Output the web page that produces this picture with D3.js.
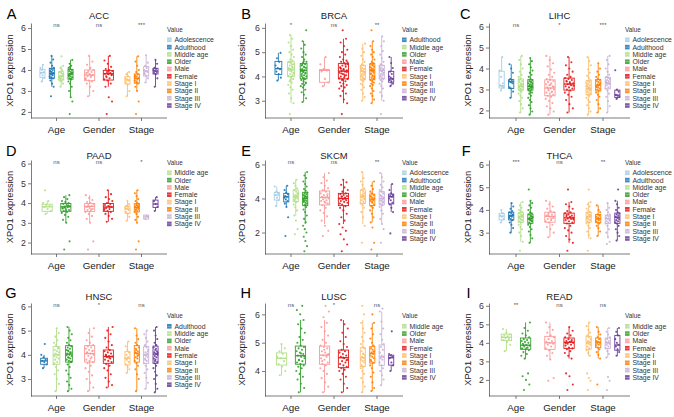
<!DOCTYPE html>
<html>
<head>
<meta charset="utf-8">
<script src="https://cdn.jsdelivr.net/npm/d3@7"></script>
<style>
  body { margin: 0; background: #fff; }
  svg { font-family: "Liberation Sans", Arial, sans-serif; }
</style>
</head>
<body>
<div id="chart"></div>
<script>
// Groups, colours (RColorBrewer "Paired") and the category each group belongs to
var groupNames = ["Adolescence", "Adulthood", "Middle age", "Older", "Male", "Female", "Stage I", "Stage II", "Stage III", "Stage IV"];
var groupColors = ["#A6CEE3", "#1F78B4", "#B2DF8A", "#33A02C", "#FB9A99", "#E31A1C", "#FDBF6F", "#FF7F00", "#CAB2D6", "#6A3D9A"];
var groupCategory = ["Age", "Age", "Age", "Age", "Gender", "Gender", "Stage", "Stage", "Stage", "Stage"];
var categories = ["Age", "Gender", "Stage"];

var panelLetters = ["A", "B", "C", "D", "E", "F", "G", "H", "I"];
var panelTitles = ["ACC", "BRCA", "LIHC", "PAAD", "SKCM", "THCA", "HNSC", "LUSC", "READ"];
var panelSig = [
  ["ns", "ns", "***"], ["*", "ns", "**"], ["ns", "*", "***"],
  ["ns", "ns", "*"], ["ns", "ns", "**"], ["***", "ns", "**"],
  ["ns", "*", "ns"], ["ns", "*", "ns"], ["**", "ns", "ns"]
];
var panelYDomain = [
  [1.71, 6.24], [2.29, 6.2], [1.64, 6.17],
  [1.42, 6.18], [0.74, 6.26], [2.06, 6.2],
  [2.3, 6.14], [3.12, 6.4], [1.13, 6.15]
];
var panelYTicks = [
  [2, 3, 4, 5, 6], [3, 4, 5, 6], [2, 3, 4, 5, 6],
  [2, 3, 4, 5, 6], [2, 4, 6], [3, 4, 5, 6],
  [3, 4, 5, 6], [4, 5, 6], [2, 3, 4, 5, 6]
];

// each group: [name, [whisker low, q1, median, q3, whisker high], points]
var acc = [
  ["Adolescence", [3.44, 3.65, 3.87, 4.03, 4.24], "3.45 3.62 3.75 3.85 3.9 4.0 4.1 4.25"],
  ["Adulthood", [3.2, 3.6, 3.84, 4.08, 4.67], "2.75 3.2 3.35 3.5 3.6 3.65 3.7 3.75 3.8 3.85 3.9 3.95 4.0 4.05 4.1 4.2 4.35 4.5 4.67 3.62 3.78 3.92"],
  ["Middle age", [3.2, 3.52, 3.68, 3.92, 4.2], "3.2 3.35 3.45 3.5 3.55 3.6 3.65 3.7 3.72 3.8 3.85 3.9 4.0 4.1 4.2 4.65 3.58 3.75"],
  ["Older", [2.7, 3.56, 3.8, 4.03, 4.48], "1.9 2.5 2.7 3.0 3.2 3.35 3.45 3.55 3.6 3.65 3.7 3.75 3.8 3.82 3.88 3.9 3.95 4.0 4.05 4.1 4.2 4.3 4.48 3.58 3.72 3.85 4.15"],
  ["Male", [2.75, 3.49, 3.76, 4.0, 4.67], "2.75 3.0 3.2 3.35 3.45 3.5 3.6 3.65 3.7 3.75 3.8 3.85 3.9 3.95 4.0 4.1 4.25 4.4 4.67 3.55 3.72 3.88"],
  ["Female", [3.2, 3.52, 3.82, 3.98, 4.67], "1.9 2.5 2.7 3.2 3.35 3.5 3.55 3.6 3.7 3.75 3.8 3.82 3.85 3.9 3.95 4.0 4.05 4.15 4.3 4.45 4.67 3.65 3.78 3.92"],
  ["Stage I", [2.75, 3.33, 3.52, 3.68, 3.9], "2.75 3.0 3.3 3.4 3.5 3.55 3.6 3.7 3.8 3.9"],
  ["Stage II", [3.0, 3.37, 3.6, 3.81, 4.65], "1.9 2.5 3.0 3.2 3.35 3.4 3.5 3.55 3.6 3.62 3.7 3.75 3.8 3.9 4.0 4.2 4.4 4.65 3.45 3.68"],
  ["Stage III", [3.4, 3.71, 3.95, 4.16, 4.7], "3.4 3.6 3.72 3.8 3.9 3.95 4.0 4.1 4.2 4.35 4.7 3.85"],
  ["Stage IV", [3.2, 3.81, 3.95, 4.08, 4.48], "3.2 3.6 3.8 3.85 3.9 3.95 4.0 4.05 4.1 4.3 4.48"]
];
var brca = [
  ["Adulthood", [3.83, 4.08, 4.32, 4.62, 4.97], "3.83 3.95 4.1 4.2 4.3 4.35 4.45 4.6 4.75 4.97"],
  ["Middle age", [2.9, 4.0, 4.29, 4.6, 5.7], "2.45 2.9 3.1 3.3 3.45 3.55 3.65 3.75 3.8 3.9 3.95 4.0 4.05 4.1 4.15 4.2 4.25 4.28 4.3 4.35 4.4 4.45 4.5 4.55 4.6 4.65 4.7 4.8 4.9 5.0 5.1 5.25 5.4 5.55 5.7 4.12 4.22 4.32 4.38 3.85 4.02 4.48 4.58"],
  ["Older", [2.95, 3.9, 4.25, 4.53, 5.45], "2.95 3.1 3.25 3.35 3.45 3.55 3.6 3.65 3.7 3.75 3.8 3.85 3.9 3.95 4.0 4.05 4.1 4.15 4.2 4.22 4.25 4.3 4.35 4.4 4.45 4.5 4.55 4.6 4.7 4.8 4.9 5.0 5.15 5.3 5.45 5.9 3.92 4.02 4.12 4.18 4.28 4.38 4.48 3.72 4.62"],
  ["Male", [3.6, 3.76, 4.25, 4.28, 4.8], "3.6 3.75 3.9 4.2 4.25 4.3 4.5 4.8"],
  ["Female", [2.9, 3.9, 4.22, 4.53, 5.55], "2.45 2.9 3.05 3.2 3.3 3.4 3.5 3.55 3.6 3.65 3.7 3.75 3.8 3.85 3.9 3.95 4.0 4.05 4.1 4.15 4.2 4.22 4.25 4.3 4.35 4.4 4.45 4.5 4.55 4.6 4.65 4.7 4.8 4.9 5.0 5.1 5.25 5.4 5.55 5.9 3.92 4.02 4.12 4.18 4.28 4.38 4.48 3.88 4.58 4.08 4.32"],
  ["Stage I", [3.0, 3.86, 4.2, 4.46, 5.35], "3.0 3.15 3.3 3.45 3.55 3.65 3.7 3.8 3.85 3.9 3.95 4.0 4.05 4.1 4.15 4.2 4.25 4.3 4.35 4.4 4.45 4.5 4.6 4.7 4.85 5.0 5.15 5.35 3.92 4.02 4.12 4.22 4.32"],
  ["Stage II", [2.9, 3.86, 4.25, 4.53, 5.45], "2.9 3.05 3.2 3.3 3.4 3.5 3.6 3.65 3.7 3.75 3.8 3.85 3.9 3.95 4.0 4.05 4.1 4.15 4.2 4.25 4.3 4.35 4.4 4.45 4.5 4.55 4.6 4.7 4.8 4.9 5.0 5.1 5.25 5.45 5.9 3.92 4.02 4.12 4.22 4.28 4.38 4.48"],
  ["Stage III", [3.0, 3.9, 4.25, 4.46, 5.65], "2.45 3.0 3.2 3.35 3.5 3.6 3.7 3.8 3.85 3.9 3.95 4.0 4.05 4.1 4.15 4.2 4.25 4.3 4.35 4.4 4.45 4.5 4.6 4.75 4.9 5.05 5.25 5.45 5.65 4.02 4.12 4.22 4.32"],
  ["Stage IV", [3.6, 3.76, 3.9, 4.21, 4.8], "3.6 3.7 3.8 3.85 3.9 3.95 4.0 4.1 4.2 4.35 4.55 4.8"]
];
var lihc = [
  ["Adolescence", [2.95, 3.07, 3.18, 3.87, 4.55], "2.95 3.1 3.15 3.2 3.3 3.6 3.9 4.55"],
  ["Adulthood", [2.6, 3.05, 3.37, 3.47, 4.2], "2.6 2.9 3.05 3.1 3.3 3.35 3.4 3.45 3.5 3.8 4.0 4.2"],
  ["Middle age", [1.9, 2.97, 3.15, 3.5, 4.6], "1.9 2.1 2.3 2.45 2.6 2.7 2.8 2.9 2.95 3.0 3.05 3.1 3.15 3.2 3.25 3.3 3.35 3.4 3.5 3.6 3.7 3.85 4.0 4.2 4.4 4.6 3.02 3.12 3.22 3.45"],
  ["Older", [1.8, 2.97, 3.15, 3.47, 4.5], "1.8 1.95 2.1 2.25 2.4 2.5 2.6 2.7 2.8 2.85 2.9 2.95 3.0 3.05 3.1 3.12 3.15 3.2 3.25 3.3 3.35 3.4 3.45 3.5 3.6 3.7 3.8 3.9 4.05 4.2 4.35 4.5 3.02 3.08 3.18 3.28 3.38"],
  ["Male", [1.8, 2.7, 3.07, 3.46, 4.6], "1.8 1.95 2.1 2.2 2.35 2.45 2.55 2.65 2.7 2.75 2.8 2.85 2.9 2.95 3.0 3.05 3.1 3.15 3.2 3.25 3.3 3.35 3.4 3.45 3.5 3.6 3.7 3.8 3.95 4.1 4.25 4.4 4.6 2.88 3.02 3.12 3.22"],
  ["Female", [1.9, 2.97, 3.26, 3.54, 4.55], "1.9 2.1 2.3 2.5 2.65 2.75 2.85 2.95 3.0 3.05 3.1 3.15 3.2 3.25 3.3 3.35 3.4 3.45 3.5 3.55 3.6 3.7 3.85 4.0 4.15 4.3 4.55 3.18 3.28 3.38"],
  ["Stage I", [1.8, 2.75, 3.05, 3.42, 4.55], "1.8 1.95 2.1 2.25 2.4 2.5 2.6 2.7 2.75 2.8 2.85 2.9 2.95 3.0 3.05 3.1 3.15 3.2 3.25 3.3 3.35 3.4 3.45 3.55 3.65 3.8 3.95 4.15 4.35 4.55 2.98 3.08 3.18"],
  ["Stage II", [1.9, 2.93, 3.2, 3.48, 4.25], "1.9 2.1 2.3 2.5 2.65 2.75 2.85 2.95 3.0 3.05 3.1 3.15 3.2 3.25 3.3 3.35 3.4 3.45 3.5 3.6 3.7 3.85 4.0 4.25 3.12 3.22"],
  ["Stage III", [1.9, 3.03, 3.31, 3.58, 4.6], "1.9 2.2 2.45 2.65 2.8 2.95 3.05 3.1 3.2 3.25 3.3 3.35 3.4 3.45 3.5 3.55 3.6 3.7 3.85 4.0 4.2 4.4 4.6 3.28 3.38"],
  ["Stage IV", [2.55, 2.62, 2.73, 2.97, 3.0], "2.55 2.65 2.7 2.75 2.9 3.0 3.92"]
];
var paad = [
  ["Middle age", [3.45, 3.58, 3.81, 3.94, 4.1], "3.45 3.6 3.7 3.8 3.85 3.9 4.0 4.1 4.65"],
  ["Older", [3.0, 3.58, 3.81, 3.98, 4.4], "1.65 2.06 3.0 3.15 3.3 3.4 3.5 3.55 3.6 3.65 3.7 3.75 3.8 3.82 3.85 3.9 3.95 4.0 4.05 4.1 4.2 4.3 4.4 3.62 3.72 3.88 3.78"],
  ["Male", [3.0, 3.58, 3.83, 3.98, 4.4], "1.65 2.06 3.0 3.2 3.35 3.45 3.55 3.6 3.65 3.7 3.75 3.8 3.85 3.9 3.95 4.0 4.05 4.15 4.25 4.4 3.68 3.82"],
  ["Female", [3.05, 3.58, 3.8, 3.98, 4.65], "3.05 3.2 3.35 3.45 3.55 3.6 3.65 3.7 3.75 3.8 3.85 3.9 3.95 4.0 4.1 4.2 4.3 4.45 4.65 3.72 3.82"],
  ["Stage I", [3.1, 3.48, 3.7, 3.85, 4.1], "3.1 3.3 3.45 3.55 3.65 3.7 3.75 3.8 3.85 3.95 4.1"],
  ["Stage II", [3.0, 3.55, 3.78, 3.97, 4.65], "1.65 2.06 3.0 3.15 3.3 3.45 3.55 3.6 3.65 3.7 3.75 3.8 3.85 3.9 3.95 4.0 4.1 4.2 4.35 4.5 4.65 3.68 3.82 3.88"],
  ["Stage III", [3.15, 3.19, 3.3, 3.39, 3.4], "3.2 3.3 3.35"],
  ["Stage IV", [3.6, 3.78, 3.95, 4.15, 4.3], "3.6 3.8 3.95 4.1 4.3"]
];
var skcm = [
  ["Adolescence", [3.55, 3.91, 4.2, 4.36, 4.7], "3.55 3.9 4.05 4.2 4.3 4.4 4.7"],
  ["Adulthood", [3.5, 3.8, 4.1, 4.3, 4.75], "1.8 2.9 3.5 3.7 3.85 3.95 4.05 4.1 4.15 4.25 4.35 4.5 4.75"],
  ["Middle age", [3.0, 3.81, 4.1, 4.5, 5.1], "1.9 2.2 2.7 3.0 3.3 3.5 3.65 3.8 3.9 4.0 4.05 4.1 4.15 4.2 4.3 4.4 4.5 4.6 4.75 4.9 5.1 3.95 4.25"],
  ["Older", [2.5, 3.58, 4.0, 4.36, 5.55], "0.9 1.2 1.5 1.75 2.0 2.2 2.4 2.6 2.8 3.0 3.2 3.35 3.5 3.6 3.7 3.75 3.8 3.85 3.9 3.95 4.0 4.05 4.1 4.15 4.2 4.25 4.3 4.35 4.45 4.55 4.7 4.85 5.0 5.2 5.35 5.55 3.65 3.88 4.02 4.12"],
  ["Male", [2.5, 3.62, 4.06, 4.44, 5.5], "1.8 2.1 2.4 2.7 2.95 3.15 3.3 3.45 3.6 3.7 3.8 3.85 3.9 3.95 4.0 4.05 4.1 4.15 4.2 4.3 4.4 4.5 4.6 4.75 4.9 5.05 5.25 5.5 3.75 4.08 4.25"],
  ["Female", [2.5, 3.58, 4.0, 4.3, 5.1], "0.9 1.3 1.6 1.9 2.1 2.3 2.5 2.7 2.9 3.1 3.3 3.45 3.55 3.65 3.75 3.8 3.85 3.9 3.95 4.0 4.05 4.1 4.15 4.2 4.25 4.3 4.4 4.5 4.65 4.8 4.95 5.1 3.7 3.98 4.12"],
  ["Stage I", [2.5, 3.7, 4.12, 4.5, 5.55], "1.4 2.4 2.9 3.2 3.45 3.6 3.7 3.8 3.9 4.0 4.05 4.1 4.15 4.2 4.3 4.4 4.5 4.6 4.8 5.0 5.2 5.55 3.95 4.25"],
  ["Stage II", [2.6, 3.58, 3.96, 4.26, 5.0], "1.0 1.4 2.3 2.6 2.9 3.1 3.3 3.45 3.55 3.65 3.75 3.85 3.9 3.95 4.0 4.05 4.1 4.2 4.3 4.4 4.55 4.75 5.0 3.8 4.15"],
  ["Stage III", [2.5, 3.62, 4.0, 4.4, 5.5], "1.4 2.2 2.5 2.8 3.1 3.3 3.5 3.6 3.7 3.8 3.85 3.9 3.95 4.0 4.05 4.1 4.2 4.3 4.4 4.5 4.65 4.8 5.0 5.25 5.5 3.75 4.15"],
  ["Stage IV", [3.2, 3.68, 4.1, 4.26, 4.85], "1.95 3.2 3.45 3.65 3.75 3.9 4.0 4.1 4.15 4.2 4.3 4.5 4.85"]
];
var thca = [
  ["Adolescence", [3.45, 3.56, 3.73, 3.85, 4.0], "3.45 3.6 3.7 3.75 3.85 4.0"],
  ["Adulthood", [3.0, 3.56, 3.75, 3.9, 4.3], "3.0 3.2 3.35 3.45 3.55 3.6 3.65 3.7 3.75 3.8 3.85 3.9 3.95 4.05 4.15 4.3 3.72 3.78"],
  ["Middle age", [2.6, 3.46, 3.7, 3.88, 4.35], "2.2 2.6 2.85 3.0 3.15 3.25 3.35 3.45 3.5 3.55 3.6 3.65 3.7 3.72 3.75 3.8 3.85 3.9 3.95 4.0 4.1 4.2 4.35 3.58 3.68 3.78"],
  ["Older", [2.55, 3.41, 3.62, 3.82, 4.4], "2.55 2.75 2.9 3.05 3.15 3.25 3.35 3.4 3.45 3.5 3.55 3.6 3.62 3.65 3.7 3.75 3.8 3.85 3.9 4.0 4.1 4.2 4.3 4.4 4.9 3.52 3.58 3.68 3.72"],
  ["Male", [2.8, 3.46, 3.72, 3.9, 4.4], "2.8 3.0 3.15 3.25 3.35 3.45 3.5 3.55 3.6 3.65 3.7 3.75 3.8 3.85 3.9 3.95 4.05 4.15 4.25 4.4 3.62 3.78"],
  ["Female", [2.55, 3.41, 3.65, 3.86, 4.35], "2.2 2.55 2.7 2.85 3.0 3.1 3.2 3.3 3.4 3.45 3.5 3.55 3.6 3.62 3.65 3.7 3.72 3.75 3.8 3.85 3.9 3.95 4.05 4.15 4.25 4.35 4.9 3.58 3.68 3.78"],
  ["Stage I", [2.75, 3.46, 3.7, 3.9, 4.35], "2.2 2.75 2.9 3.05 3.2 3.3 3.4 3.45 3.5 3.55 3.6 3.65 3.7 3.72 3.75 3.8 3.85 3.9 3.95 4.05 4.15 4.25 4.35 4.9 3.62 3.78"],
  ["Stage II", [2.85, 3.44, 3.62, 3.8, 4.2], "2.85 3.05 3.2 3.3 3.4 3.45 3.5 3.55 3.6 3.62 3.65 3.7 3.75 3.8 3.9 4.0 4.2"],
  ["Stage III", [2.8, 3.41, 3.62, 3.77, 4.3], "2.5 2.6 2.8 3.0 3.15 3.3 3.4 3.45 3.5 3.55 3.6 3.65 3.7 3.75 3.8 3.9 4.0 4.1 4.3"],
  ["Stage IV", [2.65, 3.41, 3.68, 3.86, 4.4], "2.65 2.85 3.0 3.15 3.3 3.4 3.45 3.5 3.55 3.6 3.65 3.7 3.75 3.8 3.85 3.9 4.0 4.1 4.25 4.4 4.9"]
];
var hnsc = [
  ["Adulthood", [3.45, 3.61, 3.75, 3.86, 4.0], "3.45 3.6 3.7 3.75 3.8 3.9 4.0 4.45"],
  ["Middle age", [2.5, 3.61, 4.0, 4.34, 5.1], "2.5 2.8 3.0 3.2 3.35 3.5 3.6 3.7 3.8 3.85 3.9 3.95 4.0 4.05 4.1 4.15 4.2 4.3 4.4 4.5 4.6 4.75 4.9 5.1 3.65 4.25"],
  ["Older", [2.5, 3.7, 4.03, 4.38, 5.15], "2.5 2.6 2.75 2.9 3.05 3.2 3.35 3.5 3.6 3.7 3.75 3.8 3.85 3.9 3.95 4.0 4.05 4.1 4.15 4.2 4.25 4.3 4.35 4.4 4.5 4.6 4.7 4.85 5.0 5.15 3.72 3.88 3.98 4.08 4.18"],
  ["Male", [2.5, 3.7, 4.05, 4.38, 5.1], "2.5 2.65 2.85 3.0 3.15 3.3 3.45 3.55 3.65 3.7 3.75 3.8 3.9 3.95 4.0 4.05 4.1 4.15 4.2 4.25 4.3 4.35 4.4 4.5 4.6 4.75 4.9 5.1 3.85 4.08 4.18"],
  ["Female", [2.65, 3.65, 3.93, 4.2, 5.15], "2.65 2.75 2.9 3.05 3.2 3.35 3.45 3.55 3.62 3.7 3.75 3.8 3.85 3.9 3.93 3.95 4.0 4.05 4.1 4.15 4.2 4.3 4.4 4.55 4.7 4.85 5.0 5.15 3.88 3.98"],
  ["Stage I", [3.25, 3.58, 3.86, 4.13, 4.55], "3.25 3.4 3.5 3.6 3.7 3.8 3.85 3.9 4.0 4.1 4.2 4.35 4.55"],
  ["Stage II", [2.5, 3.7, 4.07, 4.38, 5.1], "2.5 3.0 3.2 3.4 3.55 3.65 3.75 3.85 3.9 4.0 4.05 4.1 4.15 4.2 4.3 4.4 4.5 4.65 4.8 5.1 3.95 4.25"],
  ["Stage III", [2.6, 3.65, 4.0, 4.34, 5.0], "2.6 2.85 3.05 3.25 3.4 3.55 3.65 3.75 3.8 3.9 3.95 4.0 4.05 4.1 4.2 4.3 4.4 4.55 4.7 4.85 5.0 3.85 4.15"],
  ["Stage IV", [2.45, 3.65, 4.03, 4.36, 5.15], "2.45 2.6 2.8 3.0 3.15 3.3 3.45 3.55 3.65 3.7 3.8 3.85 3.9 3.95 4.0 4.05 4.1 4.15 4.2 4.3 4.4 4.5 4.65 4.8 5.0 5.15 3.75 4.08 4.25"]
];
var lusc = [
  ["Middle age", [3.85, 4.21, 4.45, 4.64, 4.95], "3.85 4.0 4.15 4.25 4.35 4.45 4.5 4.6 4.7 4.8 4.95"],
  ["Older", [3.25, 4.24, 4.54, 4.88, 5.8], "3.25 3.4 3.55 3.7 3.8 3.9 4.0 4.1 4.15 4.2 4.25 4.3 4.35 4.4 4.45 4.5 4.55 4.6 4.65 4.7 4.75 4.8 4.85 4.9 5.0 5.1 5.2 5.35 5.5 5.65 5.8 6.0 6.15 6.3 4.38 4.52 4.62"],
  ["Male", [3.25, 4.24, 4.56, 4.88, 5.8], "3.25 3.45 3.6 3.75 3.9 4.0 4.1 4.2 4.25 4.3 4.4 4.45 4.5 4.55 4.6 4.65 4.7 4.8 4.85 4.9 5.0 5.1 5.25 5.4 5.55 5.7 5.9 6.1 6.3 4.35 4.58 4.75"],
  ["Female", [3.25, 4.12, 4.47, 4.74, 5.8], "3.25 3.4 3.55 3.7 3.8 3.9 4.0 4.05 4.1 4.15 4.2 4.25 4.3 4.35 4.4 4.45 4.5 4.55 4.6 4.65 4.7 4.75 4.85 4.95 5.05 5.2 5.35 5.5 5.65 5.8 4.38 4.48"],
  ["Stage I", [3.25, 4.16, 4.47, 4.82, 5.8], "3.25 3.45 3.6 3.75 3.9 4.0 4.1 4.15 4.2 4.3 4.35 4.4 4.45 4.5 4.55 4.6 4.7 4.8 4.85 4.95 5.05 5.2 5.35 5.5 5.7 6.0 6.3 4.38 4.62"],
  ["Stage II", [3.3, 4.28, 4.62, 4.86, 5.7], "3.3 3.4 3.6 3.8 3.95 4.1 4.2 4.3 4.35 4.45 4.5 4.55 4.6 4.65 4.7 4.75 4.8 4.9 5.0 5.15 5.3 5.5 5.7 6.0 4.4 4.68"],
  ["Stage III", [3.5, 4.2, 4.5, 4.92, 6.1], "3.5 3.7 3.85 4.0 4.1 4.2 4.3 4.4 4.45 4.5 4.55 4.65 4.75 4.85 4.95 5.1 5.3 5.5 5.75 6.1 6.2"],
  ["Stage IV", [4.0, 4.21, 4.47, 4.56, 4.6], "4.0 4.2 4.3 4.45 4.5 4.55 4.6 5.4"]
];
var read = [
  ["Middle age", [3.55, 4.12, 4.3, 4.47, 4.75], "3.55 3.9 4.05 4.15 4.2 4.25 4.3 4.35 4.4 4.45 4.55 4.75"],
  ["Older", [3.15, 3.65, 3.87, 4.26, 5.1], "1.45 1.75 2.0 2.2 2.35 3.15 3.3 3.4 3.5 3.6 3.65 3.7 3.75 3.8 3.85 3.9 3.95 4.0 4.05 4.1 4.15 4.2 4.3 4.4 4.5 4.65 4.8 5.1 3.72 3.88"],
  ["Male", [3.1, 3.65, 4.0, 4.35, 5.1], "1.95 2.1 3.1 3.3 3.45 3.6 3.7 3.8 3.9 3.95 4.0 4.05 4.1 4.2 4.3 4.4 4.55 4.7 4.85 5.1"],
  ["Female", [3.15, 3.7, 4.03, 4.26, 4.85], "1.45 1.75 2.2 2.35 3.15 3.3 3.45 3.55 3.65 3.7 3.75 3.85 3.9 3.95 4.0 4.05 4.1 4.15 4.2 4.3 4.4 4.5 4.65 4.85 3.98 4.08"],
  ["Stage I", [3.3, 3.65, 4.0, 4.35, 5.1], "1.45 1.95 2.1 2.35 3.3 3.45 3.6 3.7 3.8 3.9 3.95 4.0 4.05 4.1 4.2 4.3 4.4 4.55 4.7 4.9 5.1"],
  ["Stage II", [3.15, 3.74, 4.03, 4.26, 4.85], "1.75 3.15 3.35 3.5 3.65 3.75 3.85 3.9 3.95 4.0 4.05 4.1 4.2 4.3 4.45 4.6 4.85"],
  ["Stage III", [3.2, 3.7, 4.0, 4.26, 4.8], "1.45 1.95 2.15 3.2 3.4 3.55 3.7 3.8 3.9 3.95 4.0 4.05 4.1 4.2 4.3 4.45 4.6 4.8"],
  ["Stage IV", [3.3, 3.6, 3.88, 4.4, 4.8], "3.3 3.5 3.65 3.8 3.9 4.0 4.2 4.4 4.6 4.8"]
];
var panelGroups = [acc, brca, lihc, paad, skcm, thca, hnsc, lusc, read];

// Layout of the 3x3 grid
var width = 674, height = 417;
var col_axis_x = [31, 265, 489];
var col_tick_first = [56.5, 291, 516];
var col_tick_last = [141.5, 377, 603];
var col_legend_x = [167, 402, 625];
var col_ytitle_x = [10, 242, 468];
var col_letter_x = [16.5, 251, 470.5];
var row_top = [23, 160, 303];
var row_bottom = [118, 254, 396];
var row_title_y = [19, 158.5, 299.5];
var row_letter_y = [18.5, 155.5, 297.5];
var row_legend_y = [29.5, 162.5, 316];
var legend_step = 7.3;

var svg = d3.select("#chart").append("svg")
    .attr("width", width)
    .attr("height", height);

var color_of = function(name) {
  return groupColors[groupNames.indexOf(name)];
};

var plot_panel = function(p) {
  var col = p % 3, row = Math.floor(p / 3);
  var groups = panelGroups[p];
  var top = row_top[row], bottom = row_bottom[row];
  var ax = col_axis_x[col];
  var x_scale = d3.scalePoint().domain(categories).range([col_tick_first[col], col_tick_last[col]]);
  var unit = x_scale.step();
  var ax_right = col_tick_last[col] + (col_tick_first[col] - ax);
  var y_scale = d3.scaleLinear().domain(panelYDomain[p]).range([bottom, top]);

  var g = svg.append("g");

  // panel letter and title
  g.append("text").attr("x", col_letter_x[col]).attr("y", row_letter_y[row])
      .attr("text-anchor", "end").attr("font-size", 14.5).attr("fill", "#000")
      .text(panelLetters[p]);
  g.append("text").attr("x", (ax + ax_right) / 2).attr("y", row_title_y[row])
      .attr("text-anchor", "middle").attr("font-size", 9.5).attr("fill", "#222")
      .text(panelTitles[p]);

  // y axis
  var y_axis = g.append("g").attr("transform", "translate(" + ax + ",0)")
      .call(d3.axisLeft(y_scale).tickValues(panelYTicks[p]).tickSize(3).tickSizeOuter(0).tickFormat(d3.format("d")));
  y_axis.select(".domain").attr("stroke", "#444").attr("stroke-width", 0.7);
  y_axis.selectAll(".tick line").attr("stroke", "#444").attr("stroke-width", 0.7);
  y_axis.selectAll(".tick text").attr("font-size", 8.8).attr("fill", "#333").attr("x", -5)
      .attr("font-family", "Liberation Sans, Arial, sans-serif");

  g.append("text")
      .attr("transform", "translate(" + col_ytitle_x[col] + "," + ((top + bottom) / 2) + ") rotate(-90)")
      .attr("text-anchor", "middle").attr("dy", "0.35em")
      .attr("font-size", 9.3).attr("fill", "#222")
      .text("XPO1 expression");

  // x axis
  g.append("line").attr("x1", ax).attr("x2", ax_right).attr("y1", bottom).attr("y2", bottom)
      .attr("stroke", "#444").attr("stroke-width", 0.7);
  categories.forEach(function(c) {
    g.append("line").attr("x1", x_scale(c)).attr("x2", x_scale(c))
        .attr("y1", bottom).attr("y2", bottom + 3)
        .attr("stroke", "#444").attr("stroke-width", 0.7);
    g.append("text").attr("x", x_scale(c)).attr("y", bottom + 15)
        .attr("text-anchor", "middle").attr("font-size", 9.8).attr("fill", "#222")
        .text(c);
  });

  // significance labels
  categories.forEach(function(c, i) {
    g.append("text").attr("x", x_scale(c)).attr("y", top + 4)
        .attr("text-anchor", "middle").attr("font-size", 6).attr("fill", "#555")
        .text(panelSig[p][i]);
  });

  // boxes with jittered points, dodged within each category
  var dodge = unit * 0.88;
  categories.forEach(function(c) {
    var members = groups.filter(function(d) {
      return groupCategory[groupNames.indexOf(d[0])] === c;
    });
    var slot = dodge / members.length;
    members.forEach(function(d, j) {
      var cx = x_scale(c) - dodge / 2 + (j + 0.5) * slot;
      var half = slot * 0.27;
      var col_g = color_of(d[0]);
      var stats = d[1];
      var pts = d[2].split(" ").map(Number);

      g.append("g").selectAll("circle").data(pts).enter().append("circle")
          .attr("cx", function(v, i) { return cx + (((i * 0.618034 + 0.31) % 1) * 2 - 1) * half * 0.85; })
          .attr("cy", function(v) { return y_scale(v); })
          .attr("r", 1.05)
          .attr("fill", col_g)
          .attr("opacity", 0.9);

      var box = g.append("g").attr("stroke", col_g).attr("fill", "none").attr("stroke-width", 0.9);
      box.append("line").attr("x1", cx).attr("x2", cx).attr("y1", y_scale(stats[0])).attr("y2", y_scale(stats[1]));
      box.append("line").attr("x1", cx).attr("x2", cx).attr("y1", y_scale(stats[3])).attr("y2", y_scale(stats[4]));
      box.append("rect").attr("x", cx - half).attr("width", half * 2)
          .attr("y", y_scale(stats[3])).attr("height", y_scale(stats[1]) - y_scale(stats[3]));
      box.append("line").attr("x1", cx - half).attr("x2", cx + half)
          .attr("y1", y_scale(stats[2])).attr("y2", y_scale(stats[2])).attr("stroke-width", 1.3);
    });
  });

  // legend
  var lx = col_legend_x[col], ly = row_legend_y[row];
  g.append("text").attr("x", lx).attr("y", ly + 2).attr("font-size", 6.3).attr("fill", "#333").text("Value");
  groups.forEach(function(d, i) {
    var cy = ly + 10.3 + i * legend_step;
    g.append("rect").attr("x", lx).attr("y", cy - 2.3).attr("width", 4.6).attr("height", 4.6)
        .attr("fill", color_of(d[0])).attr("opacity", 0.85);
    g.append("line").attr("x1", lx).attr("x2", lx + 4.6).attr("y1", cy).attr("y2", cy)
        .attr("stroke", "#fff").attr("stroke-width", 0.5).attr("opacity", 0.6);
    g.append("text").attr("x", lx + 7.5).attr("y", cy + 2.4).attr("font-size", 6.9).attr("fill", "#333").text(d[0]);
  });
};

for (var p = 0; p < 9; p++) {
  plot_panel(p);
}
</script>
</body>
</html>
